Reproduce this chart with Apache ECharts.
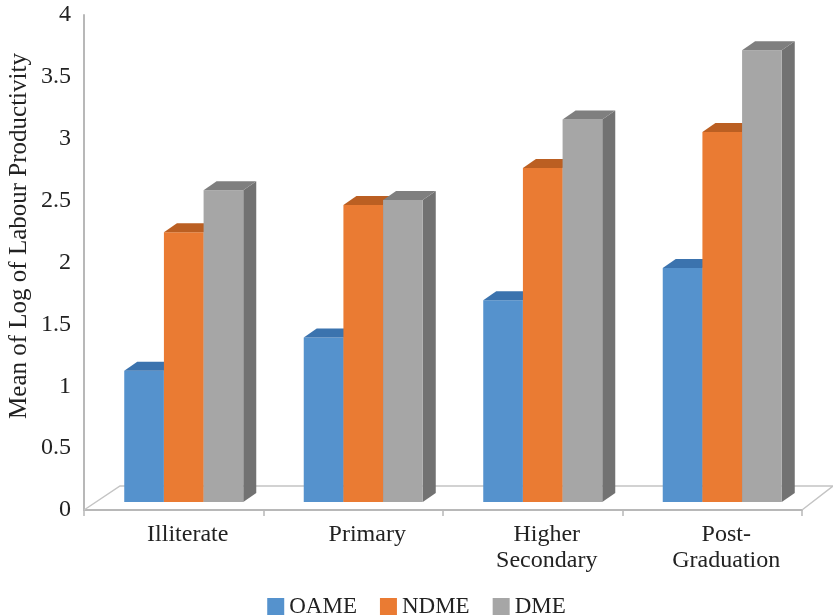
<!DOCTYPE html>
<html>
<head>
<meta charset="utf-8">
<script src="https://cdn.jsdelivr.net/npm/echarts@6/dist/echarts.min.js"></script>
<style>
  html, body { margin: 0; padding: 0; background: #fff; }
  #main { width: 833px; height: 616px; }
</style>
</head>
<body>
<div id="main"></div>
<script>
// data
var categories = ['Illiterate', 'Primary', 'Higher\nSecondary', 'Post-\nGraduation'];
var oame = [1.06, 1.33, 1.63, 1.89];
var ndme = [2.18, 2.40, 2.70, 2.99];
var dme = [2.52, 2.44, 3.09, 3.65];
var yTicks = [0, 0.5, 1, 1.5, 2, 2.5, 3, 3.5, 4];

var FONT = 'Liberation Serif';
// 3d look
var SHIFT_X = 10, SHIFT_Y = -8;   // bars stand a little inside the floor
var TOP_DX = 13, TOP_DY = -9;     // depth of each bar
var FLOOR_DX = 36, FLOOR_DY = -24;

var faces = [
  { front: '#5592cd', top: '#3b73ae', side: '#356ba5' },
  { front: '#ea7b33', top: '#bb5f22', side: '#b5561e' },
  { front: '#a6a6a6', top: '#7f7f7f', side: '#727272' }
];

function barRender(k) {
  return function (params, api) {
    var idx = api.value(0), v = api.value(1);
    var base = api.coord([idx, 0]);
    var top = api.coord([idx, v]);
    var band = api.size([1, 0])[0];
    var bw = band * 0.221;
    var x = base[0] + SHIFT_X - 1.5 * bw + k * bw;
    var yb = base[1] + SHIFT_Y;
    var yt = top[1] + SHIFT_Y;
    var c = faces[k];
    return {
      type: 'group',
      children: [{
        type: 'polygon',
        shape: { points: [[x + bw, yt], [x + bw + TOP_DX, yt + TOP_DY], [x + bw + TOP_DX, yb + TOP_DY], [x + bw, yb]] },
        style: { fill: c.side }
      }, {
        type: 'rect',
        shape: { x: x, y: yt, width: bw, height: yb - yt },
        style: { fill: c.front }
      }, {
        type: 'polygon',
        shape: { points: [[x, yt], [x + bw, yt], [x + bw + TOP_DX, yt + TOP_DY], [x + TOP_DX, yt + TOP_DY]] },
        style: { fill: c.top }
      }]
    };
  };
}

function floorRender(params, api) {
  var cs = params.coordSys;
  var x0 = cs.x, x1 = cs.x + cs.width, y0 = cs.y + cs.height;
  return {
    type: 'polyline',
    shape: { points: [[x0, y0], [x0 + FLOOR_DX, y0 + FLOOR_DY], [x1 + FLOOR_DX - 5, y0 + FLOOR_DY], [x1, y0]] },
    style: { stroke: '#c4c4c4', lineWidth: 1.5, fill: null }
  };
}

var chart = echarts.init(document.getElementById('main'));
chart.setOption({
  animation: false,
  color: [faces[0].front, faces[1].front, faces[2].front],
  grid: { left: 84, right: 31, top: 15, bottom: 106 },
  legend: {
    data: ['OAME', 'NDME', 'DME'],
    top: 590,
    left: 'center',
    icon: 'rect',
    itemWidth: 17,
    itemHeight: 17,
    itemGap: 23,
    textStyle: { fontFamily: FONT, fontSize: 23, color: '#222' }
  },
  graphic: [{
    type: 'text',
    x: 19,
    y: 236,
    rotation: Math.PI / 2,
    style: {
      text: 'Mean of Log of Labour Productivity',
      font: '25px "Liberation Serif"',
      fill: '#222',
      textAlign: 'center',
      textVerticalAlign: 'middle'
    }
  }],
  xAxis: {
    type: 'category',
    data: categories,
    axisLine: { lineStyle: { color: '#b8b8b8', width: 2 } },
    axisTick: { show: true, length: 6, lineStyle: { color: '#b8b8b8', width: 1.5 } },
    axisLabel: {
      fontFamily: FONT, fontSize: 24, color: '#222',
      margin: 12, lineHeight: 26, padding: [0, 0, 0, 28]
    },
    splitLine: { show: false }
  },
  yAxis: {
    type: 'value',
    min: 0,
    max: 4,
    interval: 0.5,
    axisLine: { show: true, lineStyle: { color: '#b8b8b8', width: 2 } },
    axisTick: { show: false },
    splitLine: { show: false },
    axisLabel: {
      fontFamily: FONT, fontSize: 24, color: '#222', margin: 13,
      formatter: function (v) { return yTicks.indexOf(v) >= 0 ? String(v) : ''; }
    }
  },
  series: [{
    type: 'custom',
    name: 'floor',
    z: 1,
    silent: true,
    renderItem: floorRender,
    data: [[0, 0]]
  }, {
    type: 'custom',
    name: 'OAME',
    z: 2,
    itemStyle: { color: faces[0].front },
    renderItem: barRender(0),
    encode: { x: 0, y: 1 },
    data: oame.map(function (v, i) { return [i, v]; })
  }, {
    type: 'custom',
    name: 'NDME',
    z: 2,
    itemStyle: { color: faces[1].front },
    renderItem: barRender(1),
    encode: { x: 0, y: 1 },
    data: ndme.map(function (v, i) { return [i, v]; })
  }, {
    type: 'custom',
    name: 'DME',
    z: 2,
    itemStyle: { color: faces[2].front },
    renderItem: barRender(2),
    encode: { x: 0, y: 1 },
    data: dme.map(function (v, i) { return [i, v]; })
  }]
});
</script>
</body>
</html>
